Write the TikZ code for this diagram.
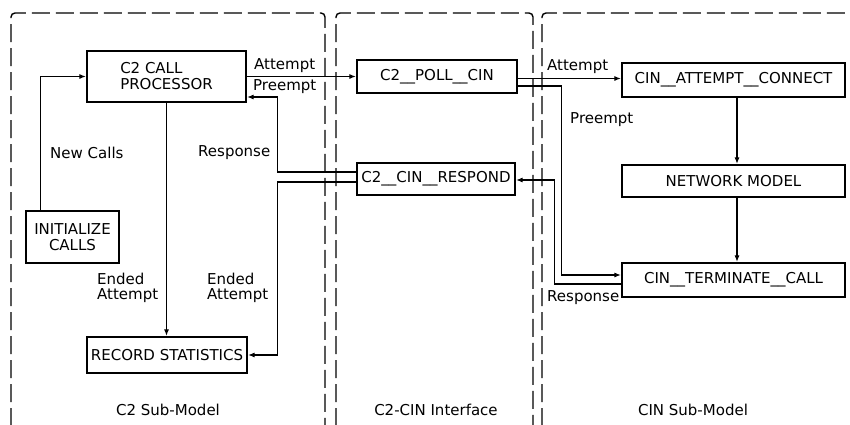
\documentclass[tikz,border=0pt]{standalone}
\usepackage{fontspec}
\setmainfont{DejaVu Sans}
\usetikzlibrary{arrows.meta}
\begin{document}
\begin{tikzpicture}[x=1pt,y=-1pt,
  every node/.style={font=\fontsize{15}{16}\selectfont, inner sep=0pt},
  blk/.style={draw, line width=2.2pt, minimum width=#1, align=center},
  panel/.style={line width=1.4pt, dash pattern=on 18pt off 6pt, rounded corners=4pt},
  arr/.style={line width=1.1pt, -{Latex[length=6.5pt,width=5pt]}},
  lbl/.style={anchor=base west, align=left}]
\useasboundingbox (0,0) rectangle (850,424);
\begin{scope}
\clip (0,0) rectangle (850,424);
\draw[panel] (11,450) -- (11,13) -- (325,13) -- (325,450);
\draw[panel] (336,450) -- (336,13) -- (533,13) -- (533,450);
\draw[panel] (542,450) -- (542,13) -- (880,13);
\end{scope}

\node[blk=159pt, minimum height=51pt, align=left] (proc) at (166.5,76.5) {C2 CALL\\PROCESSOR};
\node[blk=93pt, minimum height=52pt] (init) at (72.5,237) {INITIALIZE\\CALLS};
\node[blk=160pt, minimum height=36pt] (rec) at (167,355) {RECORD STATISTICS};
\node[blk=160pt, minimum height=33pt] (poll) at (437,76.5) {C2\_\_POLL\_\_CIN};
\node[blk=158pt, minimum height=32pt] (resp) at (436,179) {C2\_\_CIN\_\_RESPOND};
\node[blk=223pt, minimum height=34pt] (att) at (733.5,80) {CIN\_\_ATTEMPT\_\_CONNECT};
\node[blk=223pt, minimum height=32pt] (net) at (733.5,181) {NETWORK MODEL};
\node[blk=223pt, minimum height=34pt] (term) at (733.5,280) {CIN\_\_TERMINATE\_\_CALL};

% C2 side
\draw[arr] ([xshift=16pt]init.north west) |- (proc.west);
\draw[arr] (proc.east) -- (poll.west);
\draw[arr] ([yshift=7pt]resp.west) -| ([xshift=30pt,yshift=-20.5pt]proc.east) -- ([yshift=-20.5pt]proc.east);
\draw[arr] ([yshift=-3pt]resp.west) -| ([xshift=29pt]rec.east) -- (rec.east);
\draw[arr] (proc.south) -- (proc.south |- rec.north);

% CIN side
\draw[arr] ([yshift=-2pt]poll.east) -- ([yshift=-2pt]poll.east -| att.west);
\draw[arr] ([yshift=-9.5pt]poll.east) -| ([xshift=-59pt,yshift=5pt]term.west) -- ([yshift=5pt]term.west);
\draw[arr] ([yshift=-4pt]term.west) -| ([xshift=38pt,yshift=-1pt]resp.east) -- ([yshift=-1pt]resp.east);
\draw[arr] ([xshift=3.5pt]att.south) -- ([xshift=3.5pt]net.north);
\draw[arr] ([xshift=3.5pt]net.south) -- ([xshift=3.5pt]term.north);

% labels
\node[lbl] (lnew) at (50,158) {New Calls};
\node[lbl] (latt1) at (254,69) {Attempt};
\node[lbl] (lpre1) at (253,90) {Preempt};
\node[lbl] (lres1) at (198,156) {Response};
\node[anchor=base west, align=left, font=\fontsize{15}{15}\selectfont] (lend1) at (97,299) {Ended\\Attempt};
\node[anchor=base west, align=left, font=\fontsize{15}{15}\selectfont] (lend2) at (207,299) {Ended\\Attempt};
\node[lbl] (latt2) at (547,70) {Attempt};
\node[lbl] (lpre2) at (570,123) {Preempt};
\node[lbl] (lres2) at (547,301) {Response};

\node[anchor=base] (t1) at (168,415) {C2 Sub-Model};
\node[anchor=base] (t2) at (436,415) {C2-CIN Interface};
\node[anchor=base] (t3) at (693,415) {CIN Sub-Model};
\end{tikzpicture}
\end{document}
